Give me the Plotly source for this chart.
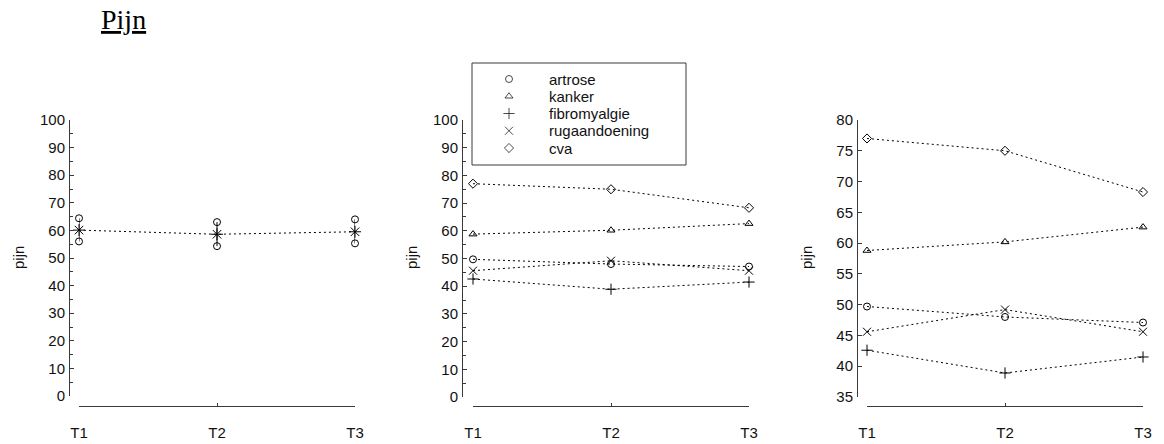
import plotly.graph_objects as go

W, H = 1164, 444

# Measurement moments
tijden = ["T1", "T2", "T3"]

# Left panel: overall mean pain score with interval bounds
gemiddelde = [60.1, 58.6, 59.5]
boven = [64.4, 63.0, 64.0]
onder = [56.0, 54.3, 55.3]

# Mean pain per diagnosis group
artrose = [49.7, 48.0, 47.1]
kanker = [58.8, 60.2, 62.6]
fibromyalgie = [42.6, 38.9, 41.5]
rugaandoening = [45.6, 49.2, 45.6]
cva = [77.0, 75.0, 68.3]

groep_namen = ["artrose", "kanker", "fibromyalgie", "rugaandoening", "cva"]
groep_waarden = [artrose, kanker, fibromyalgie, rugaandoening, cva]
groep_symbolen = ["circle-open", "triangle-up-open", "cross-thin-open", "x-thin-open", "diamond-open"]
groep_grootte = [7, 7, 8, 8, 7]

FONT = "Liberation Sans, Arial, sans-serif"
AX = "#3a3a3a"
DOT = "2px,3px"


def fx(px):
    return px / W


def fy(py):
    return 1 - py / H


fig = go.Figure()

# ---- left panel -------------------------------------------------------
fig.add_trace(go.Scatter(
    x=tijden, y=gemiddelde, mode="lines+markers",
    line=dict(color="black", width=1, dash=DOT),
    marker=dict(symbol="asterisk-open", size=10, color="black",
                line=dict(color="black", width=1)),
    error_y=dict(type="data", symmetric=False,
                 array=[b - m for b, m in zip(boven, gemiddelde)],
                 arrayminus=[m - o for m, o in zip(gemiddelde, onder)],
                 width=0, thickness=1, color="black"),
    xaxis="x", yaxis="y", showlegend=False, cliponaxis=False,
))
fig.add_trace(go.Scatter(
    x=tijden + tijden, y=boven + onder, mode="markers",
    marker=dict(symbol="circle-open", size=7, color="black",
                line=dict(color="black", width=1)),
    xaxis="x", yaxis="y", showlegend=False, cliponaxis=False,
))

# ---- middle and right panels -------------------------------------------
for ax_x, ax_y in (("x2", "y2"), ("x3", "y3")):
    for naam, waarden, symbool, grootte in zip(groep_namen, groep_waarden,
                                               groep_symbolen, groep_grootte):
        fig.add_trace(go.Scatter(
            x=tijden, y=waarden, mode="lines+markers", name=naam,
            line=dict(color="black", width=1, dash=DOT),
            marker=dict(symbol=symbool, size=grootte, color="black",
                        line=dict(color="black", width=1)),
            xaxis=ax_x, yaxis=ax_y, showlegend=False, cliponaxis=False,
        ))

# ---- legend box: its own pixel-unit axes (0..214 wide, 0..102 down) ----------
LEG_L, LEG_R, LEG_T, LEG_B = 472, 686, 63, 165
RIJ_START, RIJ_STAP = 16, 17.25
SYM_X, TXT_X = 37, 75
rijen = [RIJ_START + i * RIJ_STAP for i in range(len(groep_namen))]

fig.add_trace(go.Scatter(
    x=[SYM_X] * len(groep_namen), y=rijen, mode="markers",
    marker=dict(symbol=groep_symbolen, size=groep_grootte, color="black",
                line=dict(color="black", width=1)),
    xaxis="x4", yaxis="y4", showlegend=False, cliponaxis=False, hoverinfo="skip",
))
for naam, rij in zip(groep_namen, rijen):
    fig.add_annotation(text=naam, x=TXT_X, y=rij, xref="x4", yref="y4",
                       xanchor="left", yanchor="middle", showarrow=False,
                       font=dict(family=FONT, size=15, color="#111"))


def x_as(left, right, line_y):
    return dict(
        domain=[fx(left), fx(right)], type="category", range=[0, 2],
        anchor="free", position=fy(line_y), automargin=False,
        showline=True, linecolor=AX, linewidth=1,
        ticks="inside", ticklen=3, tickcolor=AX,
        showgrid=False, zeroline=False, fixedrange=True,
        tickfont=dict(family=FONT, size=15, color="#111"),
        ticklabelstandoff=13,
    )


def y_as(top, bottom, line_x, lo, hi, dtick, minor):
    d = dict(
        domain=[fy(bottom), fy(top)], range=[lo, hi],
        anchor="free", position=fx(line_x), automargin=False,
        showline=True, linecolor=AX, linewidth=1,
        ticks="inside", ticklen=4, tickcolor=AX, dtick=dtick, tick0=0,
        showgrid=False, zeroline=False, fixedrange=True,
        tickfont=dict(family=FONT, size=15, color="#111"),
        ticklabelstandoff=1,
    )
    if minor:
        d["minor"] = dict(ticks="inside", ticklen=3, dtick=minor,
                          tickcolor=AX, showgrid=False)
    return d


verborgen = dict(visible=False, showgrid=False, zeroline=False,
                 fixedrange=True, automargin=False)

fig.update_layout(
    template="none",
    width=W, height=H, margin=dict(l=0, r=0, t=0, b=0, autoexpand=False),
    paper_bgcolor="white", plot_bgcolor="rgba(0,0,0,0)",
    showlegend=False,
    xaxis=x_as(79, 355, 406),
    yaxis=y_as(120, 396, 69, 0, 100, 10, 5),
    xaxis2=x_as(473, 749, 406),
    yaxis2=y_as(120, 397, 462, 0, 100, 10, 5),
    xaxis3=x_as(867, 1143, 406),
    yaxis3=y_as(120, 397, 857, 35, 80, 5, None),
    xaxis4=dict(domain=[fx(LEG_L), fx(LEG_R)], range=[0, LEG_R - LEG_L],
                anchor="y4", **verborgen),
    yaxis4=dict(domain=[fy(LEG_B), fy(LEG_T)], range=[LEG_B - LEG_T, 0],
                anchor="x4", **verborgen),
    shapes=[dict(type="rect", xref="paper", yref="paper",
                 x0=fx(LEG_L), x1=fx(LEG_R), y0=fy(LEG_B), y1=fy(LEG_T),
                 line=dict(color=AX, width=1))],
)

annotaties = [
    dict(text="<u>Pijn</u>", x=fx(99), y=fy(20), xanchor="left", yanchor="middle",
         font=dict(family="Liberation Serif, Times New Roman, serif", size=28, color="black")),
]
for px in (18, 411, 806):
    annotaties.append(dict(text="pijn", x=fx(px), y=fy(258), textangle=-90,
                           xanchor="center", yanchor="middle",
                           font=dict(family=FONT, size=15, color="#111")))
for a in annotaties:
    fig.add_annotation(xref="paper", yref="paper", showarrow=False, **a)

fig.write_html("out.html")
